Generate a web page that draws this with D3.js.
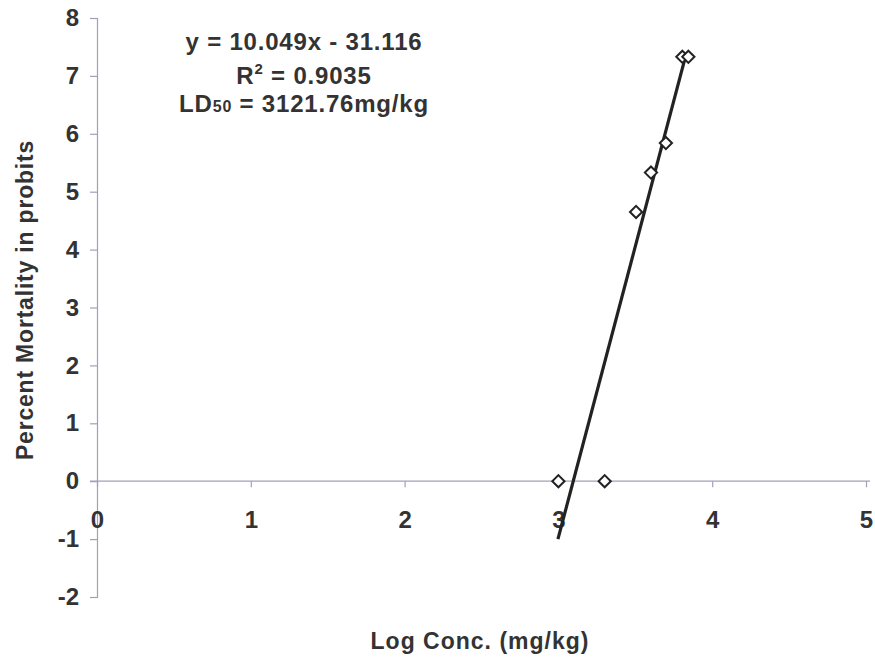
<!DOCTYPE html>
<html>
<head>
<meta charset="utf-8">
<script src="https://cdn.jsdelivr.net/npm/d3@7"></script>
<style>
	body { margin: 0; background: #fff; }
	text { font-family: "Liberation Sans", Arial, sans-serif; font-weight: bold; fill: #333; }
</style>
</head>
<body>
<div id="chart"></div>
<script>
// log concentrations and mortality in probits
var logConc = [3.0, 3.301, 3.505, 3.602, 3.699, 3.806, 3.845];
var probits = [0, 0, 4.65, 5.33, 5.84, 7.33, 7.33];
var xTicks = [0, 1, 2, 3, 4, 5];
var yTicks = [-2, -1, 0, 1, 2, 3, 4, 5, 6, 7, 8];
var slope = 10.049, intercept = -31.116;
var fitRange = [2.997, 3.83];

var width = 875, height = 658;
var svg = d3.select("#chart").append("svg")
	.attr("width", width)
	.attr("height", height);

var x = d3.scaleLinear().domain([0, 5]).range([97, 866]);
var y = d3.scaleLinear().domain([-2, 8]).range([597, 18]);
var axisColor = "#a0a0b8";
var fmt = function(d) { return String(d); }; // plain hyphen minus

/* y axis */
var yAxis = svg.append("g").attr("transform", "translate(" + x(0) + ",0)")
	.call(d3.axisLeft(y).tickValues(yTicks).tickFormat(fmt).tickSize(7).tickPadding(11));
yAxis.select(".domain").attr("stroke", axisColor).attr("stroke-width", 1.2);
yAxis.selectAll(".tick line").attr("stroke", axisColor).attr("stroke-width", 1.2);
yAxis.selectAll(".tick text").style("font-size", "24px").attr("fill", "#333");

/* x axis along y = 0 */
var xAxis = svg.append("g").attr("transform", "translate(0," + y(0) + ")")
	.call(d3.axisBottom(x).tickValues(xTicks).tickFormat(fmt).tickSize(6).tickSizeOuter(0).tickPadding(24));
xAxis.select(".domain").attr("stroke", axisColor).attr("stroke-width", 1.2)
	.attr("d", "M" + (x(0) - 7) + ",0H" + (x(5) + 4));
xAxis.selectAll(".tick text").style("font-size", "24px").attr("fill", "#333");
xAxis.selectAll(".tick line").attr("stroke", axisColor).attr("stroke-width", 1.2);

/* regression line */
svg.append("line")
	.attr("x1", x(fitRange[0])).attr("y1", y(slope * fitRange[0] + intercept))
	.attr("x2", x(fitRange[1])).attr("y2", y(slope * fitRange[1] + intercept))
	.attr("stroke", "#222").attr("stroke-width", 3.2);

/* points */
var diamond = d3.symbol().type(d3.symbolDiamond2).size(95);
svg.selectAll("path.pt")
	.data(d3.zip(logConc, probits))
	.enter().append("path")
	.attr("class", "pt")
	.attr("d", diamond)
	.attr("transform", function(d) { return "translate(" + x(d[0]) + "," + y(d[1]) + ")"; })
	.attr("fill", "#fff").attr("stroke", "#222").attr("stroke-width", 2);

/* equation block */
var eq = svg.append("g").style("font-size", "24px").style("letter-spacing", "0.8px").attr("text-anchor", "middle");
eq.append("text").attr("x", 304).attr("y", 50).text("y = 10.049x - 31.116");
var r2 = eq.append("text").attr("x", 304).attr("y", 84);
r2.append("tspan").text("R");
r2.append("tspan").attr("dy", -10).style("font-size", "15px").text("2");
r2.append("tspan").attr("dy", 10).text(" = 0.9035");
var ld = eq.append("text").attr("x", 304).attr("y", 112);
ld.append("tspan").text("LD");
ld.append("tspan").style("font-size", "16px").text("50");
ld.append("tspan").text(" = 3121.76mg/kg");

/* axis titles */
svg.append("text")
	.attr("transform", "translate(33,300) rotate(-90)")
	.attr("text-anchor", "middle")
	.style("font-size", "23px").style("letter-spacing", "0.8px").attr("fill", "#444")
	.text("Percent Mortality in probits");
svg.append("text")
	.attr("x", 480).attr("y", 649)
	.attr("text-anchor", "middle")
	.style("font-size", "23px").style("letter-spacing", "1px").attr("fill", "#444")
	.text("Log Conc. (mg/kg)");
</script>
</body>
</html>
